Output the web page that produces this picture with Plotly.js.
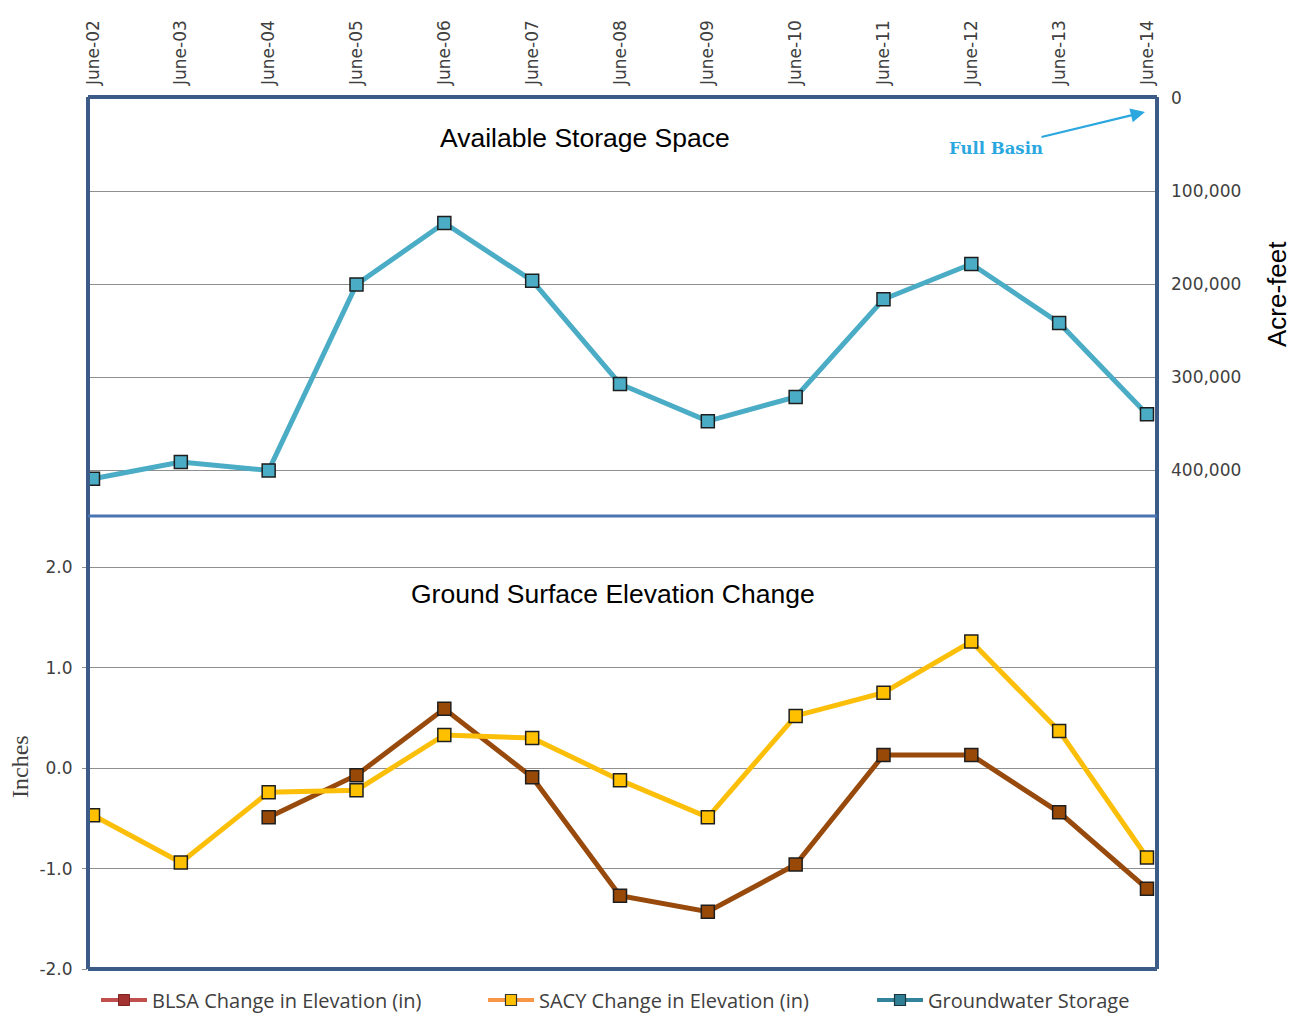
<!DOCTYPE html>
<html>
<head>
<meta charset="utf-8">
<script src="https://cdn.plot.ly/plotly-3.0.1.min.js"></script>
<style>
  html, body { margin: 0; padding: 0; background: #ffffff; }
  #chart { width: 1303px; height: 1015px; }
</style>
</head>
<body>
<div id="chart"></div>
<script>
// Sampling dates (each June)
const months = ['June-02', 'June-03', 'June-04', 'June-05', 'June-06', 'June-07', 'June-08',
                'June-09', 'June-10', 'June-11', 'June-12', 'June-13', 'June-14'];

// Available storage space in the basin, acre-feet (0 = full basin)
const storageAF = [409000, 391000, 400000, 200000, 134000, 196000, 307000,
                   347000, 321000, 216000, 178000, 241500, 339500];

// Ground surface elevation change, inches
const blsaInches = [null, null, -0.49, -0.07, 0.59, -0.09, -1.27,
                    -1.43, -0.96, 0.13, 0.13, -0.44, -1.20];
const sacyInches = [-0.47, -0.94, -0.24, -0.22, 0.33, 0.30, -0.12,
                    -0.49, 0.52, 0.75, 1.26, 0.37, -0.89];

// Axis ticks
const storageTicks = [0, 100000, 200000, 300000, 400000];
const inchTicks = [-2, -1, 0, 1, 2];
const inchTickLabels = ['-2.0', '-1.0', '0.0', '1.0', '2.0'];

// Series names
const seriesNames = ['BLSA Change in Elevation (in)', 'SACY Change in Elevation (in)', 'Groundwater Storage'];

const split = (969 - 516) / 872;   // boundary between the two panels (paper fraction)
const frameColor = '#3c5b87';
const gridColor = '#8f8f8f';
const tickFont = { family: 'DejaVu Sans', size: 17, color: '#404040' };
const markerEdge = { color: '#1e1e1e', width: 1.5 };

const traces = [
  {
    x: months, y: storageAF, xaxis: 'x', yaxis: 'y', type: 'scatter', mode: 'lines+markers',
    line: { color: '#4bacc6', width: 5 },
    marker: { symbol: 'square', size: 13, color: '#4bacc6', line: markerEdge },
    showlegend: false, hoverinfo: 'x+y'
  },
  {
    x: months, y: blsaInches, xaxis: 'x', yaxis: 'y2', type: 'scatter', mode: 'lines+markers',
    line: { color: '#984a0c', width: 5 },
    marker: { symbol: 'square', size: 13, color: '#984807', line: markerEdge },
    showlegend: false, hoverinfo: 'x+y'
  },
  {
    x: months, y: sacyInches, xaxis: 'x', yaxis: 'y2', type: 'scatter', mode: 'lines+markers',
    line: { color: '#fbbf0a', width: 5 },
    marker: { symbol: 'square', size: 13, color: '#ffc000', line: markerEdge },
    showlegend: false, hoverinfo: 'x+y'
  },
  // Legend keys (legend-only entries), one legend box each
  {
    x: [null], y: [null], xaxis: 'x', yaxis: 'y2', type: 'scatter', mode: 'lines+markers',
    name: seriesNames[0], legend: 'legend',
    line: { color: '#c0504d', width: 4 },
    marker: { symbol: 'square', size: 11, color: '#a33330', line: { color: '#7a2422', width: 1 } }
  },
  {
    x: [null], y: [null], xaxis: 'x', yaxis: 'y2', type: 'scatter', mode: 'lines+markers',
    name: seriesNames[1], legend: 'legend2',
    line: { color: '#f79646', width: 4 },
    marker: { symbol: 'square', size: 11, color: '#ffc000', line: { color: '#333333', width: 1.2 } }
  },
  {
    x: [null], y: [null], xaxis: 'x', yaxis: 'y', type: 'scatter', mode: 'lines+markers',
    name: seriesNames[2], legend: 'legend3',
    line: { color: '#31849b', width: 4 },
    marker: { symbol: 'square', size: 11, color: '#2f7f95', line: { color: '#1c3340', width: 1.2 } }
  }
];

function legendAt(px) {
  return {
    orientation: 'h',
    xref: 'container', yref: 'container',
    x: px / 1303, y: (1015 - 1000) / 1015, xanchor: 'left', yanchor: 'middle',
    itemwidth: 46,
    font: { family: 'Open Sans', size: 20, color: '#404040' },
    bgcolor: 'rgba(0,0,0,0)', itemclick: false, itemdoubleclick: false
  };
}

const layout = {
  width: 1303, height: 1015,
  margin: { l: 88, r: 146, t: 97, b: 46 },
  paper_bgcolor: '#ffffff', plot_bgcolor: '#ffffff',
  font: { family: 'DejaVu Sans', color: '#404040' },
  xaxis: {
    type: 'category', anchor: 'y', side: 'top',
    range: [-0.057, 12.114],
    tickangle: -90, tickfont: { family: 'DejaVu Sans', size: 17, color: '#404040' },
    showgrid: false, zeroline: false, showline: false, ticks: '',
    ticklabelstandoff: 11, fixedrange: true
  },
  yaxis: {
    domain: [split, 1], anchor: 'x', side: 'right',
    range: [449000, -1500],
    tickvals: storageTicks, tickformat: ',',
    tickfont: tickFont, ticklabelstandoff: 13,
    showgrid: true, gridcolor: gridColor, gridwidth: 1,
    zeroline: false, showline: false, ticks: '',
    fixedrange: true
  },
  yaxis2: {
    domain: [0, split], anchor: 'x', side: 'left',
    range: [-2, 2.51],
    tickvals: inchTicks, ticktext: inchTickLabels,
    tickfont: tickFont, ticklabelstandoff: 6,
    ticks: 'outside', ticklen: 5, tickcolor: gridColor,
    showgrid: true, gridcolor: gridColor, gridwidth: 1,
    zeroline: false, showline: false,
    fixedrange: true
  },
  shapes: [
    // outer frame
    { type: 'line', xref: 'paper', yref: 'paper', x0: 0, x1: 0, y0: 0, y1: 1, line: { color: frameColor, width: 4 } },
    { type: 'line', xref: 'paper', yref: 'paper', x0: 1, x1: 1, y0: 0, y1: 1, line: { color: frameColor, width: 4 } },
    { type: 'line', xref: 'paper', yref: 'paper', x0: 0, x1: 1, y0: 1, y1: 1, line: { color: frameColor, width: 4 } },
    { type: 'line', xref: 'paper', yref: 'paper', x0: 0, x1: 1, y0: 0, y1: 0, line: { color: frameColor, width: 4 } },
    // panel divider
    { type: 'line', xref: 'paper', yref: 'paper', x0: 0, x1: 1, y0: split, y1: split, line: { color: '#4a75b3', width: 3 } }
  ],
  annotations: [
    {
      text: 'Available Storage Space', xref: 'paper', yref: 'paper',
      x: (585 - 88) / 1069, y: (969 - 138) / 872, xanchor: 'center', yanchor: 'middle',
      showarrow: false, font: { family: 'Liberation Sans', size: 26.5, color: '#000000' }
    },
    {
      text: 'Ground Surface Elevation Change', xref: 'paper', yref: 'paper',
      x: (613 - 88) / 1069, y: (969 - 594) / 872, xanchor: 'center', yanchor: 'middle',
      showarrow: false, font: { family: 'Liberation Sans', size: 26.5, color: '#000000' }
    },
    // axis titles
    {
      text: 'Acre-feet', xref: 'paper', yref: 'paper',
      x: (1277 - 88) / 1069, y: (969 - 294) / 872, xanchor: 'center', yanchor: 'middle',
      textangle: -90, showarrow: false,
      font: { family: 'Liberation Sans', size: 26, color: '#000000' }
    },
    {
      text: 'Inches', xref: 'paper', yref: 'paper',
      x: (20 - 88) / 1069, y: (969 - 767) / 872, xanchor: 'center', yanchor: 'middle',
      textangle: -90, showarrow: false,
      font: { family: 'Liberation Serif', size: 24, color: '#404040' }
    },
    {
      text: '<b>Full Basin</b>', xref: 'paper', yref: 'paper',
      x: (1145 - 88) / 1069, y: (969 - 112) / 872,
      ax: -149, ay: 36,
      showarrow: true, arrowhead: 2, arrowsize: 1.3, arrowwidth: 2.2, arrowcolor: '#2aa7df',
      font: { family: 'DejaVu Serif', size: 16.5, color: '#2aa7df' }
    }
  ],
  legend: legendAt(96),
  legend2: legendAt(483),
  legend3: legendAt(872),
  showlegend: true,
  hovermode: 'closest'
};

Plotly.newPlot('chart', traces, layout, { displayModeBar: false, responsive: false });
</script>
</body>
</html>
